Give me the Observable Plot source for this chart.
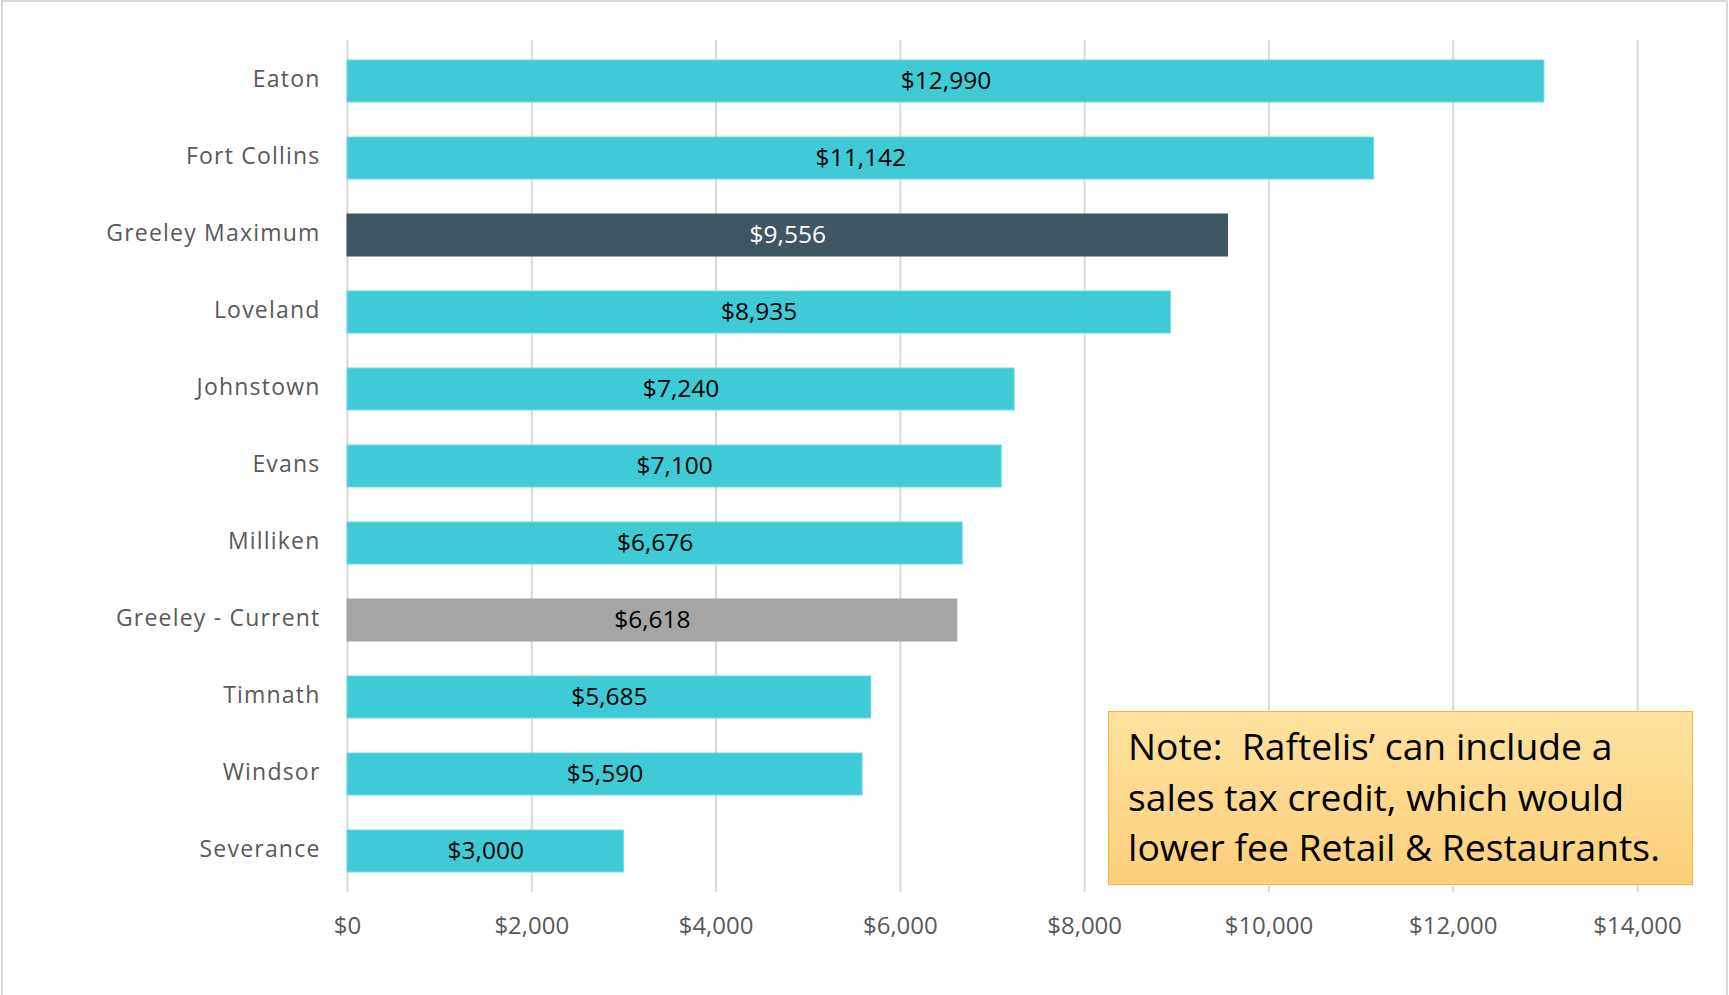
<!DOCTYPE html>
<html><head><meta charset="utf-8">
<script src="https://cdn.jsdelivr.net/npm/d3@7"></script>
<script src="https://cdn.jsdelivr.net/npm/@observablehq/plot@0.6"></script>
<style>
body{margin:0;background:#fff;}
#wrap{position:relative;width:1729px;height:995px;overflow:hidden;background:#fff;}
#frame{position:absolute;left:1px;top:0;width:1727px;height:1000px;border:2px solid #d9d9d9;border-bottom:none;box-sizing:border-box;pointer-events:none}
#note{position:absolute;left:1108px;top:711px;width:585px;height:174px;box-sizing:border-box;border:1.5px solid #F4B92F;background:linear-gradient(#FEE29F,#FCD07B);font-family:"Open Sans";font-size:36px;line-height:50.7px;padding:10px 0 0 19px;color:#000;white-space:nowrap}
#note span{display:inline-block;transform:scaleX(1.035);transform-origin:left center}
.yax text{letter-spacing:1.2px}
</style></head>
<body>
<div id="wrap"><div id="chart"></div>
<div id="note"><span>Note:&nbsp; Raftelis’ can include a</span><br><span>sales tax credit, which would</span><br><span>lower fee Retail &amp; Restaurants.</span></div>
<div id="frame"></div>
</div>
<script>
const cities = ["Eaton","Fort Collins","Greeley Maximum","Loveland","Johnstown","Evans","Milliken","Greeley - Current","Timnath","Windsor","Severance"];
const fees = [12990,11142,9556,8935,7240,7100,6676,6618,5685,5590,3000];
const barColors = ["#3ECBD5","#3ECBD5","#3D5763","#3ECBD5","#3ECBD5","#3ECBD5","#3ECBD5","#A5A5A5","#3ECBD5","#3ECBD5","#3ECBD5"];
const labelColors = ["#000","#000","#fff","#000","#000","#000","#000","#000","#000","#000","#000"];
const xTicks = [0,2000,4000,6000,8000,10000,12000,14000];

const data = cities.map((c,i)=>({city:c, fee:fees[i], color:barColors[i], lab:labelColors[i]}));
const money = d3.format("$,");

const chart = Plot.plot({
  width:1729, height:995,
  marginLeft:347, marginRight:92, marginTop:40, marginBottom:103,
  style:{fontFamily:"Open Sans", background:"#fff", overflow:"visible"},
  x:{domain:[0,14000], ticks:xTicks, tickFormat:money, label:null},
  y:{domain:cities, paddingInner:0.45, paddingOuter:0.225, label:null},
  marks:[
    Plot.gridX(xTicks, {stroke:"#d9d9d9", strokeOpacity:1, strokeWidth:2}),
    Plot.barX(data, {x:"fee", y:"city", fill:"color", stroke:d=>d.color==="#3ECBD5"?"#72D9E0":d.color, strokeWidth:1}),
    Plot.text(data, {x:d=>d.fee/2, y:"city", text:d=>money(d.fee), fill:"lab", fontSize:24.5, dy:0}),
    Plot.axisX(xTicks, {tickSize:0, tickPadding:24, tickFormat:money, fontSize:24, fill:"#595959", label:null}),
    Plot.axisY({tickSize:0, tickPadding:27, fontSize:23, fill:"#595959", className:"yax", label:null, dy:-2})
  ]
});
document.getElementById("chart").append(chart);
</script>
</body></html>
